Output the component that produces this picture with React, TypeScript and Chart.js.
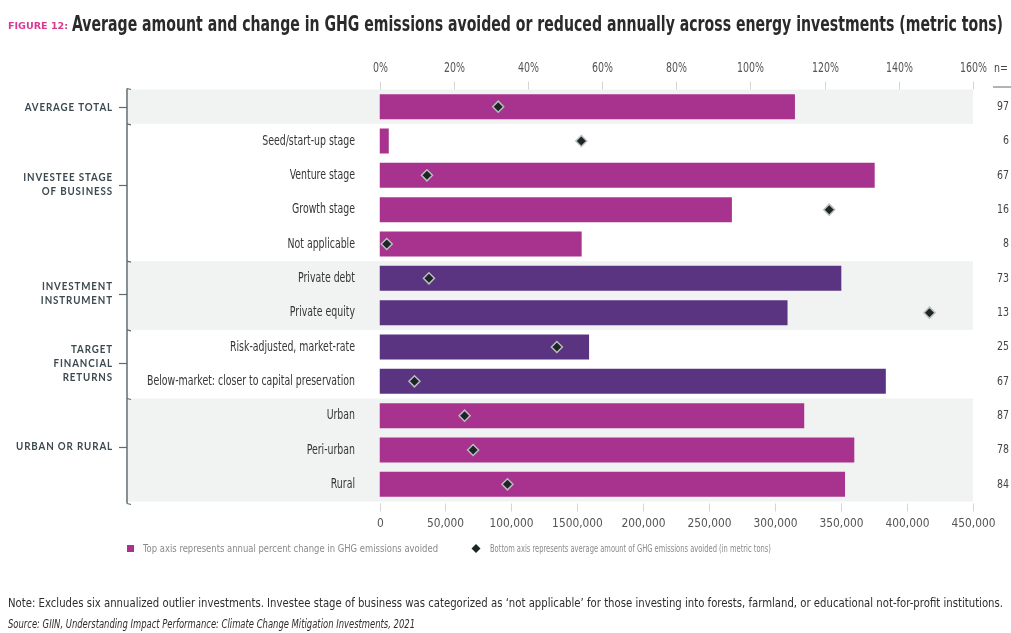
import React, { useEffect, useRef } from "react";
import { Chart, registerables } from "chart.js";

Chart.register(...registerables);

// Rows of the chart, top to bottom
const categories = [
  "Average total",
  "Seed/start-up stage",
  "Venture stage",
  "Growth stage",
  "Not applicable",
  "Private debt",
  "Private equity",
  "Risk-adjusted, market-rate",
  "Below-market: closer to capital preservation",
  "Urban",
  "Peri-urban",
  "Rural",
];

// Rows whose name is carried by the group label alone
const unlabeledRows = [0];

// Annual percent change in GHG emissions avoided (top axis, %)
const percentChange = [112, 2.5, 133.5, 95, 54.5, 124.5, 110, 56.5, 136.5, 114.5, 128, 125.5];

// Average amount of GHG emissions avoided (bottom axis, metric tons)
const avgTonsAvoided = [90000, 153000, 36000, 341000, 5500, 37500, 417000, 134500, 26500, 64500, 71000, 97000];

// Number of investments per row
const sampleSizes = [97, 6, 67, 16, 8, 73, 13, 25, 67, 87, 78, 84];

// Which rows use the purple palette (instrument and financial-return rows)
const purpleRows = [5, 6, 7, 8];

// Row groups: label lines, first row, last row, shaded band
const groupLabels = [
  ["AVERAGE TOTAL"],
  ["INVESTEE STAGE", "OF BUSINESS"],
  ["INVESTMENT", "INSTRUMENT"],
  ["TARGET", "FINANCIAL", "RETURNS"],
  ["URBAN OR RURAL"],
];
const groupFirstRow = [0, 1, 5, 7, 9];
const groupLastRow = [0, 4, 6, 8, 11];
const groupShaded = [true, false, true, false, true];
const groupLabelAnchor = [0.02, 2.27, 5.45, 7.48, 9.9];

// Axis ticks
const topTickValues = [0, 20, 40, 60, 80, 100, 120, 140, 160];
const topTickLabels = ["0%", "20%", "40%", "60%", "80%", "100%", "120%", "140%", "160%"];
const bottomTickValues = [0, 50000, 100000, 150000, 200000, 250000, 300000, 350000, 400000, 450000];
const bottomTickLabels = ["0", "50,000", "100,000", "1500,000", "200,000", "250,000", "300,000", "350,000", "400,000", "450,000"];

const MAGENTA = "#a8338e";
const PURPLE = "#5a3480";
const BAND = "#f1f2f2";
const NARROW = '"Liberation Sans Narrow", "DejaVu Sans Condensed", "Liberation Sans", sans-serif';

type Align = "left" | "right" | "center";

function drawText(
  ctx: CanvasRenderingContext2D,
  text: string,
  x: number,
  y: number,
  font: string,
  color: string,
  align: Align,
  sx: number,
  spacing = "0px"
) {
  ctx.save();
  ctx.font = font;
  (ctx as any).letterSpacing = spacing;
  ctx.fillStyle = color;
  ctx.textBaseline = "middle";
  ctx.textAlign = align;
  ctx.translate(x, y);
  ctx.scale(sx, 1);
  ctx.fillText(text, 0, 0);
  ctx.restore();
}

function scaleFor(ctx: CanvasRenderingContext2D, text: string, font: string, width: number, spacing = "0px") {
  ctx.save();
  ctx.font = font;
  (ctx as any).letterSpacing = spacing;
  const w = ctx.measureText(text).width;
  ctx.restore();
  return width / w;
}

function drawFitted(
  ctx: CanvasRenderingContext2D,
  text: string,
  x: number,
  y: number,
  font: string,
  color: string,
  width: number
) {
  const sx = scaleFor(ctx, text, font, width);
  drawText(ctx, text, x, y, font, color, "left", sx);
}

const backdropPlugin = {
  id: "backdrop",
  beforeDatasetsDraw(chart: any) {
    const { ctx, chartArea } = chart;
    const y = chart.scales.y;
    const pitch = y.getPixelForValue(1) - y.getPixelForValue(0);
    ctx.save();
    groupShaded.forEach((shaded, g) => {
      if (!shaded) return;
      const top = y.getPixelForValue(groupFirstRow[g]) - pitch / 2;
      const bottom = y.getPixelForValue(groupLastRow[g]) + pitch / 2;
      ctx.fillStyle = BAND;
      ctx.fillRect(128, top, chartArea.right - 128, bottom - top);
    });
    ctx.restore();
  },
};

const annotationPlugin = {
  id: "annotations",
  afterDraw(chart: any) {
    const { ctx, chartArea } = chart;
    const y = chart.scales.y;
    const xTop = chart.scales.xTop;
    const xBottom = chart.scales.xBottom;
    const pitch = y.getPixelForValue(1) - y.getPixelForValue(0);
    const top = chartArea.top;
    const bottom = chartArea.bottom;

    // Title
    drawFitted(ctx, "FIGURE 12:", 8, 27, `bold 9px ${NARROW}`, "#d9388f", 60);
    drawFitted(
      ctx,
      "Average amount and change in GHG emissions avoided or reduced annually across energy investments (metric tons)",
      72,
      26,
      `bold 21px ${NARROW}`,
      "#2a2a2a",
      931
    );

    // Top axis ticks and labels
    const topFont = `14px ${NARROW}`;
    const topSx = scaleFor(ctx, "100%", topFont, 27);
    ctx.save();
    ctx.strokeStyle = "#d4d6d6";
    ctx.lineWidth = 1;
    topTickValues.forEach((v, i) => {
      const px = Math.round(xTop.getPixelForValue(v)) + 0.5;
      ctx.beginPath();
      ctx.moveTo(px, top - 8);
      ctx.lineTo(px, top);
      ctx.stroke();
      drawText(ctx, topTickLabels[i], px, 68, topFont, "#555", "center", topSx);
    });
    const axisFont = `12px ${NARROW}`;
    const botSx = scaleFor(ctx, "450,000", axisFont, 44);
    bottomTickValues.forEach((v, i) => {
      const px = Math.round(xBottom.getPixelForValue(v)) + 0.5;
      ctx.beginPath();
      ctx.moveTo(px, bottom + 2);
      ctx.lineTo(px, bottom + 10);
      ctx.stroke();
      drawText(ctx, bottomTickLabels[i], px, 524, axisFont, "#555", "center", botSx);
    });
    ctx.restore();

    // Row labels
    const rowFont = `14px ${NARROW}`;
    const rowSx = scaleFor(ctx, categories[8], rowFont, 208);
    categories.forEach((c, i) => {
      if (unlabeledRows.includes(i)) return;
      drawText(ctx, c, 355, y.getPixelForValue(i), rowFont, "#363636", "right", rowSx);
    });

    // Bracket
    ctx.save();
    ctx.strokeStyle = "#5d6c70";
    ctx.lineWidth = 1.5;
    ctx.beginPath();
    ctx.moveTo(127, top - 1);
    ctx.lineTo(127, bottom + 2);
    ctx.stroke();
    ctx.lineWidth = 1.2;
    const edgeYs = [top - 1, bottom + 2];
    groupFirstRow.slice(1).forEach((r) => edgeYs.push(y.getPixelForValue(r) - pitch / 2));
    edgeYs.forEach((ey) => {
      ctx.beginPath();
      ctx.moveTo(127, ey);
      ctx.lineTo(131, ey + 1);
      ctx.stroke();
    });
    ctx.restore();

    // Group labels
    const groupFont = `bold 11px Lato, ${NARROW}`;
    const groupSx = scaleFor(ctx, "URBAN OR RURAL", groupFont, 97, "1px");
    groupLabels.forEach((lines, g) => {
      const cy = y.getPixelForValue(groupLabelAnchor[g]);
      const lh = 14;
      const start = cy - ((lines.length - 1) * lh) / 2;
      lines.forEach((line, k) => {
        drawText(ctx, line, 113, start + k * lh, groupFont, "#3c4a4f", "right", groupSx, "1px");
      });
      ctx.save();
      ctx.strokeStyle = "#5d6c70";
      ctx.lineWidth = 1.2;
      ctx.beginPath();
      ctx.moveTo(119, Math.round(cy) + 0.5);
      ctx.lineTo(127, Math.round(cy) + 0.5);
      ctx.stroke();
      ctx.restore();
    });

    // Sample-size column
    const nFont = `13px ${NARROW}`;
    const nSx = scaleFor(ctx, "97", nFont, 12);
    drawText(ctx, "n=", 994, 69, nFont, "#444", "left", nSx);
    ctx.save();
    ctx.strokeStyle = "#9a9a9a";
    ctx.lineWidth = 1.5;
    ctx.beginPath();
    ctx.moveTo(993, 87);
    ctx.lineTo(1011, 87);
    ctx.stroke();
    ctx.restore();
    sampleSizes.forEach((n, i) => {
      drawText(ctx, String(n), 1009, y.getPixelForValue(i), nFont, "#444", "right", nSx);
    });

    // Legend
    ctx.save();
    ctx.fillStyle = MAGENTA;
    ctx.fillRect(127, 545, 7, 7);
    ctx.fillStyle = "#1d2626";
    ctx.beginPath();
    ctx.moveTo(476, 544);
    ctx.lineTo(480.5, 548.5);
    ctx.lineTo(476, 553);
    ctx.lineTo(471.5, 548.5);
    ctx.closePath();
    ctx.fill();
    ctx.restore();
    const legFont = `11px ${NARROW}`;
    drawFitted(ctx, "Top axis represents annual percent change in GHG emissions avoided", 143, 549, legFont, "#8a8a8a", 295);
    drawFitted(
      ctx,
      "Bottom axis represents average amount of GHG emissions avoided (in metric tons)",
      490,
      549,
      legFont,
      "#8a8a8a",
      281
    );

    // Notes
    drawFitted(
      ctx,
      "Note: Excludes six annualized outlier investments. Investee stage of business was categorized as \u2018not applicable\u2019 for those investing into forests, farmland, or educational not-for-profit institutions.",
      8,
      604,
      `12px ${NARROW}`,
      "#2e2e2e",
      995
    );
    drawFitted(
      ctx,
      "Source: GIIN, Understanding Impact Performance: Climate Change Mitigation Investments, 2021",
      8,
      625,
      `italic 12px ${NARROW}`,
      "#2e2e2e",
      407
    );
  },
};

export default function App() {
  const canvasRef = useRef<HTMLCanvasElement | null>(null);

  useEffect(() => {
    const canvas = canvasRef.current;
    if (!canvas) return;
    const chart = new Chart(canvas, {
      type: "bar",
      data: {
        labels: categories,
        datasets: [
          {
            type: "line",
            label: "Average amount of GHG emissions avoided",
            data: avgTonsAvoided,
            xAxisID: "xBottom",
            yAxisID: "y",
            showLine: false,
            pointStyle: "rectRot",
            pointRadius: 5.5,
            pointBackgroundColor: "#1d2626",
            pointBorderColor: "#b9bdbd",
            pointBorderWidth: 1.5,
            order: 0,
          } as any,
          {
            type: "bar",
            label: "Annual percent change in GHG emissions avoided",
            data: percentChange,
            xAxisID: "xTop",
            yAxisID: "y",
            backgroundColor: categories.map((_, i) => (purpleRows.includes(i) ? PURPLE : MAGENTA)),
            borderWidth: 0,
            barPercentage: 0.73,
            categoryPercentage: 1,
            order: 1,
          },
        ],
      },
      options: {
        indexAxis: "y",
        responsive: false,
        animation: false,
        devicePixelRatio: 1,
        layout: { padding: { left: 0, right: 38, top: 0, bottom: 0 } },
        plugins: {
          legend: { display: false },
          tooltip: { enabled: false },
        },
        scales: {
          y: {
            type: "category",
            position: "left",
            offset: true,
            grid: { display: false },
            border: { display: false },
            ticks: { display: false },
            afterFit: (s: any) => {
              s.width = 379.5;
            },
          },
          xTop: {
            type: "linear",
            position: "top",
            min: 0,
            max: 160,
            grid: { display: false },
            border: { display: false },
            ticks: { display: false },
            afterFit: (s: any) => {
              s.height = 89.5;
            },
          },
          xBottom: {
            type: "linear",
            position: "bottom",
            min: 0,
            max: 450000,
            grid: { display: false },
            border: { display: false },
            ticks: { display: false },
            afterFit: (s: any) => {
              s.height = 131.5;
            },
          },
        },
      } as any,
      plugins: [backdropPlugin, annotationPlugin],
    });
    return () => chart.destroy();
  }, []);

  return (
    <div style={{ position: "fixed", left: 0, top: 0, width: 1011, height: 633, background: "#fff" }}>
      <canvas ref={canvasRef} width={1011} height={633} style={{ display: "block" }} />
    </div>
  );
}
